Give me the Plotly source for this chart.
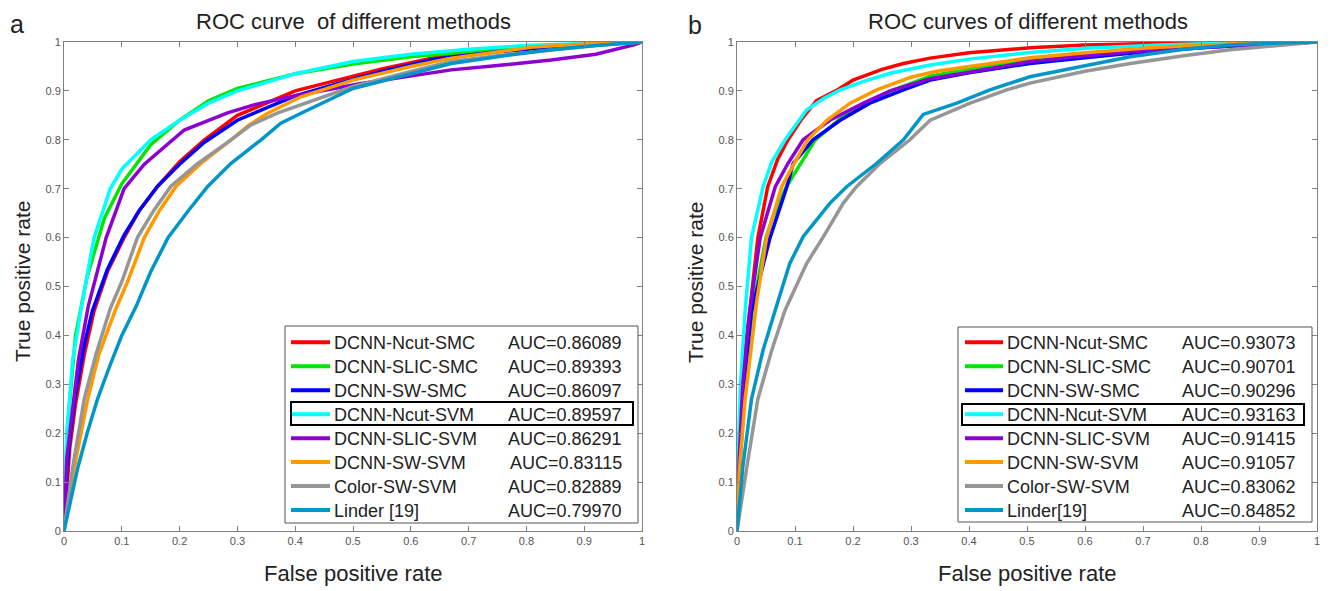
import plotly.graph_objects as go

# page body adds an 8px margin, so the figure is drawn 8px in from the window edge
OFF = 8
W, H = 1331 - OFF, 591 - OFF

# legend entries
methods_a = ["DCNN-Ncut-SMC", "DCNN-SLIC-SMC", "DCNN-SW-SMC", "DCNN-Ncut-SVM",
             "DCNN-SLIC-SVM", "DCNN-SW-SVM", "Color-SW-SVM", "Linder [19]"]
methods_b = ["DCNN-Ncut-SMC", "DCNN-SLIC-SMC", "DCNN-SW-SMC", "DCNN-Ncut-SVM",
             "DCNN-SLIC-SVM", "DCNN-SW-SVM", "Color-SW-SVM", "Linder[19]"]
auc_a = ["0.86089", "0.89393", "0.86097", "0.89597", "0.86291", "0.83115", "0.82889", "0.79970"]
auc_b = ["0.93073", "0.90701", "0.90296", "0.93163", "0.91415", "0.91057", "0.83062", "0.84852"]
colors = ["#ff0000", "#00e600", "#0000ff", "#00ffff", "#8c00d2", "#ff9900", "#969696", "#0096c8"]

ticks = [0, 0.1, 0.2, 0.3, 0.4, 0.5, 0.6, 0.7, 0.8, 0.9, 1]
tick_text = ["0", "0.1", "0.2", "0.3", "0.4", "0.5", "0.6", "0.7", "0.8", "0.9", "1"]

# ---- panel a ----
a_ncut_smc_fpr = [0, 0.005, 0.01, 0.02, 0.035, 0.052, 0.075, 0.104, 0.13, 0.162, 0.2, 0.243, 0.3, 0.35, 0.4, 0.473, 0.55, 0.64, 0.75, 0.85, 0.95, 1]
a_ncut_smc_tpr = [0, 0.1, 0.17, 0.26, 0.36, 0.45, 0.53, 0.6, 0.655, 0.705, 0.755, 0.8, 0.85, 0.875, 0.9, 0.922, 0.945, 0.968, 0.983, 0.992, 0.998, 1]
a_slic_smc_fpr = [0, 0.005, 0.02, 0.04, 0.07, 0.1, 0.15, 0.2, 0.25, 0.3, 0.4, 0.5, 0.6, 0.7, 0.8, 0.9, 1]
a_slic_smc_tpr = [0, 0.2, 0.4, 0.52, 0.64, 0.71, 0.79, 0.84, 0.88, 0.905, 0.935, 0.955, 0.97, 0.98, 0.99, 0.995, 1]
a_sw_smc_fpr = [0, 0.005, 0.01, 0.02, 0.035, 0.049, 0.075, 0.104, 0.13, 0.162, 0.2, 0.243, 0.3, 0.35, 0.4, 0.473, 0.55, 0.64, 0.75, 0.85, 0.95, 1]
a_sw_smc_tpr = [0, 0.12, 0.19, 0.28, 0.38, 0.45, 0.535, 0.605, 0.655, 0.705, 0.75, 0.795, 0.84, 0.865, 0.89, 0.915, 0.94, 0.965, 0.98, 0.99, 0.997, 1]
a_ncut_svm_fpr = [0, 0.005, 0.015, 0.029, 0.052, 0.08, 0.1, 0.15, 0.2, 0.25, 0.3, 0.4, 0.5, 0.6, 0.7, 0.8, 0.9, 1]
a_ncut_svm_tpr = [0, 0.2, 0.35, 0.45, 0.6, 0.7, 0.74, 0.8, 0.84, 0.875, 0.9, 0.935, 0.96, 0.975, 0.985, 0.993, 0.997, 1]
a_slic_svm_fpr = [0, 0.005, 0.012, 0.025, 0.042, 0.073, 0.104, 0.139, 0.208, 0.283, 0.33, 0.4, 0.514, 0.6, 0.67, 0.75, 0.843, 0.92, 0.986, 1]
a_slic_svm_tpr = [0, 0.15, 0.22, 0.35, 0.46, 0.6, 0.7, 0.75, 0.82, 0.855, 0.872, 0.89, 0.915, 0.93, 0.943, 0.952, 0.963, 0.975, 0.994, 1]
a_sw_svm_fpr = [0, 0.018, 0.041, 0.06, 0.09, 0.11, 0.139, 0.165, 0.194, 0.24, 0.289, 0.32, 0.353, 0.41, 0.5, 0.6, 0.67, 0.75, 0.813, 0.9, 1]
a_sw_svm_tpr = [0, 0.13, 0.27, 0.36, 0.455, 0.51, 0.6, 0.655, 0.705, 0.755, 0.8, 0.83, 0.855, 0.888, 0.922, 0.95, 0.967, 0.98, 0.99, 0.996, 1]
a_color_fpr = [0, 0.015, 0.035, 0.055, 0.08, 0.1, 0.127, 0.155, 0.185, 0.23, 0.289, 0.323, 0.37, 0.45, 0.5, 0.6, 0.67, 0.75, 0.843, 0.92, 1]
a_color_tpr = [0, 0.13, 0.27, 0.36, 0.455, 0.51, 0.6, 0.655, 0.705, 0.75, 0.8, 0.83, 0.855, 0.888, 0.909, 0.94, 0.96, 0.972, 0.984, 0.993, 1]
a_linder_fpr = [0, 0.009, 0.024, 0.04, 0.058, 0.08, 0.1, 0.125, 0.15, 0.18, 0.215, 0.249, 0.289, 0.341, 0.375, 0.42, 0.5, 0.6, 0.67, 0.75, 0.843, 0.92, 1]
a_linder_tpr = [0, 0.05, 0.13, 0.2, 0.27, 0.34, 0.4, 0.46, 0.53, 0.6, 0.655, 0.705, 0.752, 0.8, 0.834, 0.86, 0.905, 0.935, 0.956, 0.97, 0.984, 0.993, 1]

# ---- panel b ----
b_ncut_smc_fpr = [0, 0.003, 0.008, 0.015, 0.022, 0.036, 0.053, 0.07, 0.088, 0.11, 0.137, 0.17, 0.2, 0.25, 0.287, 0.333, 0.4, 0.505, 0.6, 0.7, 0.8, 1]
b_ncut_smc_tpr = [0, 0.15, 0.28, 0.38, 0.45, 0.6, 0.704, 0.76, 0.8, 0.84, 0.88, 0.9, 0.922, 0.944, 0.956, 0.967, 0.978, 0.988, 0.994, 0.997, 0.999, 1]
b_slic_smc_fpr = [0, 0.006, 0.014, 0.026, 0.05, 0.062, 0.085, 0.12, 0.135, 0.175, 0.22, 0.27, 0.333, 0.4, 0.505, 0.6, 0.7, 0.8, 0.9, 1]
b_slic_smc_tpr = [0, 0.15, 0.3, 0.45, 0.6, 0.643, 0.704, 0.772, 0.8, 0.84, 0.875, 0.902, 0.93, 0.945, 0.963, 0.975, 0.985, 0.992, 0.997, 1]
b_sw_smc_fpr = [0, 0.005, 0.012, 0.025, 0.057, 0.086, 0.097, 0.131, 0.178, 0.229, 0.287, 0.333, 0.4, 0.505, 0.6, 0.678, 0.8, 0.9, 1]
b_sw_smc_tpr = [0, 0.15, 0.3, 0.45, 0.6, 0.704, 0.752, 0.8, 0.84, 0.875, 0.902, 0.922, 0.937, 0.956, 0.968, 0.977, 0.988, 0.995, 1]
b_ncut_svm_fpr = [0, 0.002, 0.006, 0.01, 0.014, 0.025, 0.045, 0.06, 0.083, 0.12, 0.15, 0.178, 0.22, 0.264, 0.333, 0.4, 0.5, 0.6, 0.73, 0.85, 1]
b_ncut_svm_tpr = [0, 0.15, 0.3, 0.38, 0.45, 0.6, 0.704, 0.755, 0.8, 0.861, 0.885, 0.902, 0.92, 0.936, 0.953, 0.965, 0.978, 0.987, 0.994, 0.998, 1]
b_slic_svm_fpr = [0, 0.004, 0.01, 0.022, 0.04, 0.066, 0.088, 0.114, 0.16, 0.218, 0.264, 0.333, 0.39, 0.505, 0.6, 0.678, 0.85, 0.95, 1]
b_slic_svm_tpr = [0, 0.15, 0.3, 0.45, 0.6, 0.704, 0.752, 0.8, 0.84, 0.875, 0.9, 0.925, 0.936, 0.96, 0.972, 0.98, 0.992, 0.997, 1]
b_sw_svm_fpr = [0, 0.004, 0.014, 0.034, 0.051, 0.077, 0.1, 0.122, 0.155, 0.195, 0.241, 0.3, 0.344, 0.4, 0.505, 0.6, 0.7, 0.8, 0.9, 1]
b_sw_svm_tpr = [0, 0.12, 0.27, 0.47, 0.6, 0.704, 0.755, 0.8, 0.84, 0.875, 0.902, 0.928, 0.94, 0.95, 0.968, 0.978, 0.987, 0.994, 0.998, 1]
b_color_fpr = [0, 0.008, 0.017, 0.036, 0.06, 0.083, 0.12, 0.149, 0.183, 0.206, 0.247, 0.298, 0.333, 0.402, 0.465, 0.505, 0.6, 0.678, 0.77, 0.85, 0.93, 1]
b_color_tpr = [0, 0.063, 0.131, 0.27, 0.37, 0.452, 0.547, 0.602, 0.67, 0.704, 0.752, 0.8, 0.84, 0.875, 0.902, 0.916, 0.94, 0.956, 0.972, 0.984, 0.993, 1]
b_linder_fpr = [0, 0.01, 0.025, 0.045, 0.066, 0.091, 0.114, 0.16, 0.189, 0.241, 0.287, 0.321, 0.379, 0.436, 0.505, 0.6, 0.678, 0.77, 0.85, 0.93, 1]
b_linder_tpr = [0, 0.131, 0.27, 0.37, 0.452, 0.547, 0.602, 0.67, 0.704, 0.752, 0.8, 0.852, 0.875, 0.902, 0.929, 0.952, 0.97, 0.985, 0.994, 0.998, 1]

curves_a = [(a_ncut_smc_fpr, a_ncut_smc_tpr), (a_slic_smc_fpr, a_slic_smc_tpr),
            (a_sw_smc_fpr, a_sw_smc_tpr), (a_ncut_svm_fpr, a_ncut_svm_tpr),
            (a_slic_svm_fpr, a_slic_svm_tpr), (a_sw_svm_fpr, a_sw_svm_tpr),
            (a_color_fpr, a_color_tpr), (a_linder_fpr, a_linder_tpr)]
curves_b = [(b_ncut_smc_fpr, b_ncut_smc_tpr), (b_slic_smc_fpr, b_slic_smc_tpr),
            (b_sw_smc_fpr, b_sw_smc_tpr), (b_ncut_svm_fpr, b_ncut_svm_tpr),
            (b_slic_svm_fpr, b_slic_svm_tpr), (b_sw_svm_fpr, b_sw_svm_tpr),
            (b_color_fpr, b_color_tpr), (b_linder_fpr, b_linder_tpr)]


# screen pixel -> paper coordinate
def px(x):
    return (x - OFF) / W


def py(y):
    return 1 - (y - OFF) / H


FONT = "Arial, Liberation Sans, sans-serif"

fig = go.Figure()
for (fx, ty), c in zip(curves_a, colors):
    fig.add_trace(go.Scatter(x=fx, y=ty, mode="lines", line=dict(color=c, width=3.5),
                             xaxis="x", yaxis="y", showlegend=False))
for (fx, ty), c in zip(curves_b, colors):
    fig.add_trace(go.Scatter(x=fx, y=ty, mode="lines", line=dict(color=c, width=3.5),
                             xaxis="x2", yaxis="y2", showlegend=False))

axis_style = dict(range=[0, 1], tickvals=ticks, ticktext=tick_text, ticks="inside",
                  ticklen=5, tickcolor="#808080", showline=True, linecolor="#808080",
                  linewidth=1, mirror="ticks", showgrid=False, zeroline=False,
                  automargin=False,
                  tickfont=dict(size=11, color="#555555", family=FONT))
y_dom = [py(531), py(42)]
fig.update_layout(
    width=W, height=H, margin=dict(l=0, r=0, t=0, b=0),
    paper_bgcolor="white", plot_bgcolor="white",
    xaxis=dict(domain=[px(64), px(642)], anchor="y", **axis_style),
    yaxis=dict(domain=y_dom, anchor="x", **axis_style),
    xaxis2=dict(domain=[px(737), px(1317)], anchor="y2", **axis_style),
    yaxis2=dict(domain=y_dom, anchor="x2", **axis_style),
)

ann = []
shapes = []


def text(x, y, s, size, xanchor="center", angle=0, color="#222222"):
    ann.append(dict(x=px(x), y=py(y), xref="paper", yref="paper", text=s, showarrow=False,
                    xanchor=xanchor, yanchor="middle", textangle=angle,
                    font=dict(size=size, color=color, family=FONT)))


# titles, panel letters, axis titles
text(353, 21, "ROC curve  of different methods", 22)
text(1028, 21, "ROC curves of different methods", 22)
text(17, 24, "a", 25)
text(695, 25, "b", 25)
text(353, 573, "False positive rate", 22)
text(1027, 573, "False positive rate", 22)
text(22, 282, "True positive rate", 21, angle=-90)
text(695, 282, "True positive rate", 21, angle=-90)

# hand-made legends
legends = [
    dict(box=(285, 326, 638, 523), hl=(291, 402, 633, 425), lx=(291, 330), tx=332, ax=624,
         names=methods_a, aucs=auc_a),
    dict(box=(958, 327, 1312, 522), hl=(962, 404, 1304, 425), lx=(965, 1003), tx=1005, ax=1298,
         names=methods_b, aucs=auc_b),
]
for lg in legends:
    x0, y0, x1, y1 = lg["box"]
    shapes.append(dict(type="rect", xref="paper", yref="paper", x0=px(x0), x1=px(x1),
                       y0=py(y1), y1=py(y0), fillcolor="white",
                       line=dict(color="#555555", width=1), layer="above"))
    for i, (name, auc, c) in enumerate(zip(lg["names"], lg["aucs"], colors)):
        ry = 342.3 + 23.96 * i
        shapes.append(dict(type="line", xref="paper", yref="paper", x0=px(lg["lx"][0]),
                           x1=px(lg["lx"][1]), y0=py(ry), y1=py(ry),
                           line=dict(color=c, width=4), layer="above"))
        text(lg["tx"], ry + 1, name, 18, xanchor="left")
        text(lg["ax"], ry + 1, "AUC=" + auc, 18, xanchor="right")
    hx0, hy0, hx1, hy1 = lg["hl"]
    shapes.append(dict(type="rect", xref="paper", yref="paper", x0=px(hx0), x1=px(hx1),
                       y0=py(hy1), y1=py(hy0), line=dict(color="black", width=2),
                       layer="above"))

fig.update_layout(annotations=ann, shapes=shapes)
fig.write_html("out.html")
